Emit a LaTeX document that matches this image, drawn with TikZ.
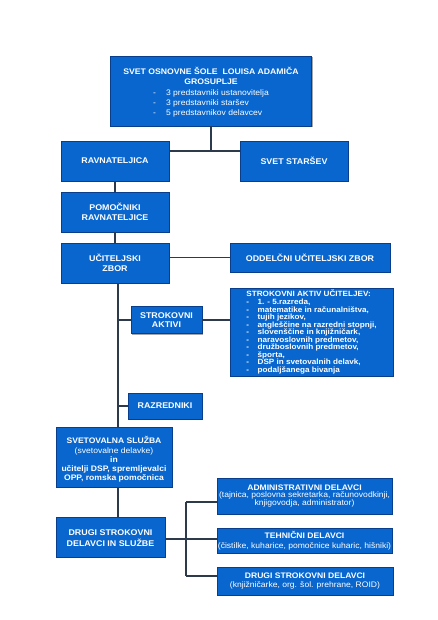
\documentclass[tikz,border=0pt]{standalone}
\usepackage{fontspec}
\setmainfont{Liberation Sans}[FakeStretch=1.07]
\usetikzlibrary{shadows}
\definecolor{boxblue}{RGB}{8,102,206}
\definecolor{boxedge}{RGB}{8,62,140}
\definecolor{linec}{RGB}{45,58,76}
\tikzset{
  box/.style={draw=boxedge, fill=boxblue, line width=0.6pt, text=white, inner sep=0pt,
    align=center, font=\bfseries\fontsize{8.3}{10}\selectfont,
    drop shadow={shadow xshift=1.3pt, shadow yshift=-1.3pt, fill=black, opacity=0.35}},
  conn/.style={draw=linec, line width=1.1pt}
}
\newcommand{\rgl}[1]{{\mdseries #1}}
\newcommand{\lowr}[2]{\raisebox{-#1}[\height][\depth]{#2}}
\begin{document}
\begin{tikzpicture}[x=1pt,y=-1pt]
\useasboundingbox[fill=white] (0,0) rectangle (438,620);
% boxes
\node[box, minimum width=201pt, minimum height=70pt, font=\bfseries\fontsize{8.1}{10.5}\selectfont] (top) at (211,91)
  {\lowr{1.5pt}{\begin{tabular}{@{}c@{}}SVET OSNOVNE ŠOLE\ \ LOUISA ADAMIČA\\GROSUPLJE\\[0.5pt]
   {\mdseries\fontsize{8}{10}\selectfont\begin{tabular}{@{}l@{\hspace{10pt}}l@{}}
   -&3 predstavniki ustanovitelja\\
   -&3 predstavniki staršev\\
   -&5 predstavnikov delavcev
   \end{tabular}}\end{tabular}}};
\node[box, minimum width=108pt, minimum height=40pt] (rav) at (115,161) {RAVNATELJICA};
\node[box, minimum width=108pt, minimum height=40pt] (svet) at (294,161) {SVET STARŠEV};
\node[box, minimum width=108pt, minimum height=40pt] (pom) at (115,212) {POMOČNIKI\\RAVNATELJICE};
\node[box, minimum width=108pt, minimum height=40pt] (uz) at (115,263) {UČITELJSKI\\ZBOR};
\node[box, minimum width=160pt, minimum height=29pt] (odd) at (310,257.5) {ODDELČNI UČITELJSKI ZBOR};
\node[box, minimum width=71pt, minimum height=27pt, font=\bfseries\fontsize{8.3}{9}\selectfont] (sa) at (166.5,320) {STROKOVNI\\AKTIVI};
\node[box, minimum width=163pt, minimum height=88pt, font=\bfseries\fontsize{7.6}{6.5}\selectfont] (big) at (311.5,332)
  {\begin{tabular}{@{}l@{\hspace{8.5pt}}l@{}}
   \multicolumn{2}{@{}l@{}}{STROKOVNI AKTIV UČITELJEV:}\\[0.8pt]
   -&1. - 5.razreda,\\
   -&matematike in računalništva,\\
   -&tujih jezikov,\\
   -&angleščine na razredni stopnji,\\
   -&slovenščine in knjižničark,\\
   -&naravoslovnih predmetov,\\
   -&družboslovnih predmetov,\\
   -&športa,\\
   -&DSP in svetovalnih delavk,\\
   -&podaljšanega bivanja
   \end{tabular}};
\node[box, minimum width=74pt, minimum height=26pt] (raz) at (165,406) {RAZREDNIKI};
\node[box, minimum width=116pt, minimum height=60pt, font=\bfseries\fontsize{8}{9.2}\selectfont] (svs) at (114,457)
  {\lowr{3pt}{\begin{tabular}{@{}c@{}}SVETOVALNA SLUŽBA\\\rgl{(svetovalne delavke)}\\in\\učitelji DSP, spremljevalci\\OPP, romska pomočnica\end{tabular}}};
\node[box, minimum width=109pt, minimum height=40pt, font=\bfseries\fontsize{8.3}{11}\selectfont] (dsd) at (110.5,537)
  {\lowr{1.5pt}{\begin{tabular}{@{}c@{}}DRUGI STROKOVNI\\DELAVCI IN SLUŽBE\end{tabular}}};
\node[box, minimum width=175pt, minimum height=36pt, font=\bfseries\fontsize{8}{7.8}\selectfont] (adm) at (304.5,496)
  {ADMINISTRATIVNI DELAVCI\\\rgl{(tajnica, poslovna sekretarka, računovodkinji,}\\\rgl{knjigovodja, administrator)}};
\node[box, minimum width=175pt, minimum height=25pt, font=\bfseries\fontsize{8}{10}\selectfont] (teh) at (304.5,540.5)
  {TEHNIČNI DELAVCI\\\rgl{(čistilke, kuharice, pomočnice kuharic, hišniki)}};
\node[box, minimum width=176pt, minimum height=28pt, font=\bfseries\fontsize{8}{9}\selectfont] (dru) at (305,581)
  {DRUGI STROKOVNI DELAVCI\\\rgl{(knjižničarke, org. šol. prehrane, ROID)}};
% connectors
\coordinate (j1) at (211,151);
\coordinate (sp) at (118,0);
\coordinate (a1) at (186,502);
\coordinate (a2) at (186,576);
\draw[conn] (top.south) -- (j1);
\draw[conn] (rav.east |- j1) -- (svet.west |- j1);
\draw[conn] (rav.south) -- (pom.north);
\draw[conn] (pom.south) -- (uz.north);
\draw[conn] (uz.east |- odd.west) -- (odd.west);
\draw[conn] (uz.south -| sp) -- (svs.north -| sp);
\draw[conn] (sp |- sa.west) -- (sa.west);
\draw[conn] (sa.east) -- (big.west |- sa.east);
\draw[conn] (sp |- raz.west) -- (raz.west);
\draw[conn] (svs.south -| sp) -- (dsd.north -| sp);
\draw[conn] (dsd.east |- 0,539) -- (teh.west |- 0,539);
\draw[conn] (a1) -- (a2);
\draw[conn] (a1) -- (adm.west |- a1);
\draw[conn] (a2) -- (dru.west |- a2);
\end{tikzpicture}
\end{document}
